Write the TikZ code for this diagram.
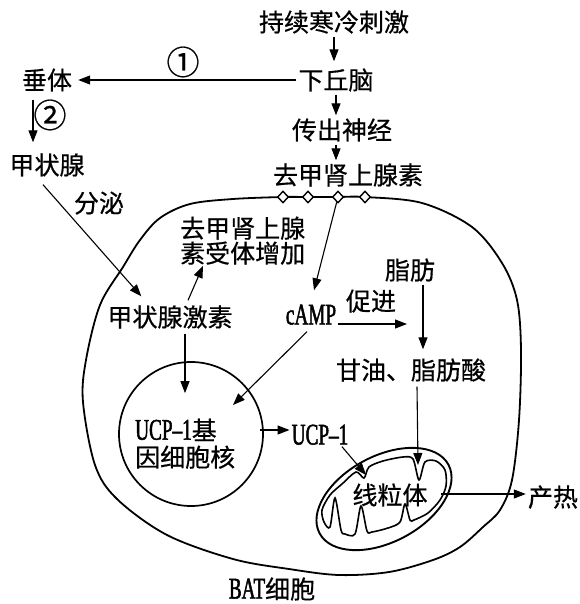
\documentclass[tikz,border=0pt]{standalone}
\usepackage{fontspec}
\setmainfont{Noto Sans CJK SC}[FakeBold=0.6]
\newfontfamily\latf[FakeStretch=0.64, FakeBold=1.6]{Liberation Serif}
\newcommand\lat{\latf\fontsize{30pt}{30pt}\selectfont}
\usetikzlibrary{arrows.meta,shapes.geometric,calc}
% strut for one line of 25pt text: 22pt above, 3pt below the baseline
\newcommand\cjs{\rule[-3pt]{0pt}{25pt}}

\begin{document}
\begin{tikzpicture}[x=1pt,y=-1pt,
  every node/.style={font=\fontsize{25pt}{25pt}\selectfont, inner sep=2pt},
  lbl/.style={text height=22pt, text depth=3pt},
  circ/.style={lbl, font=\fontsize{33pt}{33pt}\selectfont},
  arr/.style={line width=1.1pt, -{Triangle[length=12pt,width=9pt]}},
  memb/.style={line width=1.8pt},
  pore/.style={diamond, draw, fill=white, line width=1.4pt,
    minimum width=11pt, minimum height=12pt, inner sep=0pt}]
\useasboundingbox (0,0) rectangle (579,604);

% ---- BAT cell membrane ----
\draw[memb] plot[smooth cycle, tension=0.55] coordinates {
  (233,199) (283,197) (308,197) (338,197) (365,197) (422,203) (472,227)
  (502,263) (517,300) (521,350) (519,420) (512,480) (500,510) (483,527)
  (460,547) (433,560) (389,572) (339,575) (289,569) (233,559) (167,535)
  (117,499) (95,465) (83,402) (86,360) (100,305) (123,267) (140,240)
  (160,218) (190,204)};
\node[pore] (d1) at (283,197) {};
\node[pore] (d2) at (308,197) {};
\node[pore] (d3) at (338,197) {};
\node[pore] (d4) at (365,197) {};

% ---- nucleus ----
\node[circle, draw, line width=1.7pt, minimum size=144pt, inner sep=0pt] (nuc) at (191,434) {};
\node[anchor=north west, inner sep=0pt, align=left,
      font=\fontsize{25pt}{27pt}\selectfont] (gene) at (135,417.5)
      {\cjs{\lat UCP–1}基\\\cjs 因细胞核};

% ---- mitochondrion ----
\draw[line width=1.9pt, rotate around={28:(384,499)}] (384,499) ellipse [x radius=73, y radius=43];
\draw[line width=1.6pt] plot[smooth cycle, tension=0.5] coordinates {
  (322,510) (330,495) (342,484) (356,472) (364,478) (369,467) (383,461)
  (403,457) (413,459) (419,480) (425,462) (436,461) (445,470) (446,486)
  (440,500) (428,513) (414,520) (410,520) (405,504) (400,522) (388,528)
  (372,532) (367,531) (361,506) (355,534) (345,534) (341,530) (335,498)
  (330,527) (324,522)};
\coordinate (mnotch) at (366,475);
\coordinate (mtop) at (418,465);
\coordinate (mright) at (441,494);
\node[lbl] (mt) at (390,495) {线粒体};

% ---- labels ----
\node[lbl] (stim) at (334,22) {持续寒冷刺激};
\node[lbl] (hyp) at (336,80) {下丘脑};
\node[lbl] (pit) at (47,80) {垂体};
\node[lbl] (thy) at (47,165) {甲状腺};
\node[lbl] (eff) at (342,130) {传出神经};
\node[lbl] (ne) at (348,175) {去甲肾上腺素};
\node[lbl] (fat) at (410,270) {脂肪};
\node[lbl] (th) at (170,317) {甲状腺激素};
\node[lbl] (camp) at (311,315) {\lat cAMP};
\node[lbl] (gly) at (411,370) {甘油、脂肪酸};
\node[lbl] (ucp) at (320,435) {\lat UCP–1};
\node[lbl] (heat) at (553,497) {产热};
\node[lbl, inner sep=0pt] (bat) at (272,589) {{\lat BAT}细胞};
\node[lbl] (sec) at (99,203) {分泌};
\node[lbl] (prom) at (371,301) {促进};
\node[circ] (c1) at (183,65) {①};
\node[circ] (c2) at (50,118) {②};
\node[anchor=north west, inner sep=0pt, align=left] (rec) at (180,215.5)
      {\cjs 去甲肾上腺\\\cjs 素受体增加};
\coordinate (pend) at (407,324);

% ---- connectors ----
\draw[arr, shorten >=4pt] (stim.south) -- (stim.south |- hyp.north);
\draw[arr, shorten >=4pt] (hyp.west) -- (pit.east);
\draw[arr] ($(pit.south)+(-14,5)$) -- ($(thy.north)+(-14,-8)$);
\draw[arr] (hyp.south) -- (hyp.south |- eff.north);
\draw[arr] (eff.south -| hyp.south) -- (ne.north -| hyp.south);
\draw[arr] ($(thy.south)+(-4,5)$) -- ($(th.north west)+(36,-6)$);
\draw[arr] ($(th.north)+(18,-2)$) -- ($(rec.south west)+(23,0)$);
\draw[arr] (d3) -- ($(camp.north)+(3,-10)$);
\draw[arr] ($(th.south)+(15,2)$) -- ($(nuc.north)+(-6,32)$);
\draw[arr] ($(camp.south)+(-4,2)$) -- ($(nuc.center)+(42,-29)$);
\draw[arr] ($(nuc.east)+(-4,-4)$) -- ($(ucp.west)+(0,-5)$);
\draw[arr] ($(ucp.south)+(22,-3)$) -- (mnotch);
\draw[arr] ($(camp.east)+(0,9)$) -- (pend);
\draw[arr] ($(fat.south)+(13,0)$) -- ($(fat.south |- gly.north)+(13,-6)$);
\draw[arr] ($(gly.south)+(6,2)$) -- (mtop);
\draw[arr] (mright) -- ($(heat.west)+(0,-3)$);
\end{tikzpicture}
\end{document}
